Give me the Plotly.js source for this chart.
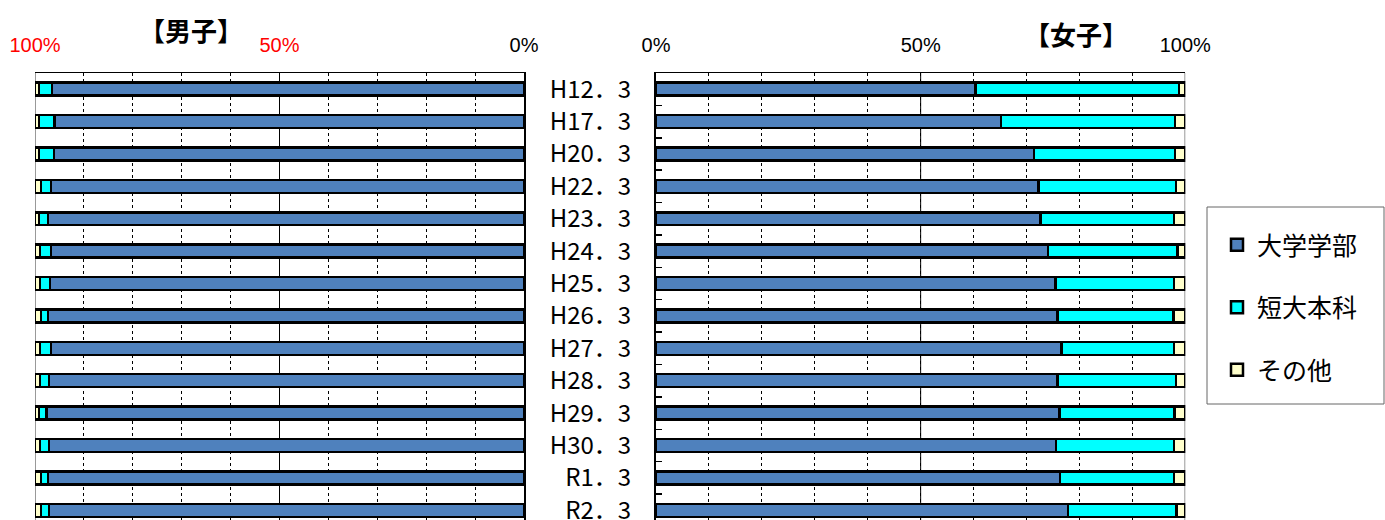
<!DOCTYPE html>
<html>
<head>
<meta charset="utf-8">
<script src="https://cdn.plot.ly/plotly-3.0.1.min.js"></script>
<style>
html,body{margin:0;padding:0;overflow:hidden;background:#fff;}
#chart{width:1385px;height:520px;}
</style>
</head>
<body>
<div id="chart"></div>
<script>
// categories (top to bottom)
const categories = ["H12．3","H17．3","H20．3","H22．3","H23．3","H24．3","H25．3","H26．3","H27．3","H28．3","H29．3","H30．3","R1．3","R2．3"];
const seriesNames = ["大学学部","短大本科","その他"];

// 男子 (%)
const maleUniv  = [96.5,96.0,96.1,96.7,97.3,96.7,96.9,97.3,96.7,97.1,97.6,97.1,97.3,97.1];
const maleJunior= [2.7,3.2,3.1,2.1,1.9,2.3,2.1,1.5,2.3,1.9,1.6,1.9,1.5,1.7];
const maleOther = [0.8,0.8,0.8,1.2,0.8,1.0,1.0,1.2,1.0,1.0,0.8,1.0,1.2,1.2];

// 女子 (%)
const femaleUniv  = [60.4,65.2,71.4,72.3,72.6,74.1,75.5,75.9,76.6,75.9,76.2,75.6,76.3,77.8];
const femaleJunior= [38.4,32.9,26.7,25.9,25.3,24.4,22.4,21.9,21.3,22.3,21.8,22.3,21.6,20.5];
const femaleOther = [1.2,1.9,1.9,1.8,2.1,1.5,2.1,2.2,2.1,1.8,2.0,2.1,2.1,1.7];

const maleTickText = ['<span style="color:#FF0000">100%</span>','<span style="color:#FF0000">50%</span>','0%'];
const femaleTickText = ['0%','50%','100%'];
const tickVals = [100,50,0];
const tickValsF = [0,50,100];

const colors = ["#4F81BD","#00FFFF","#FFFFCC"];
const W = 1385, H = 520;
const px = v => v / W;
const py = v => (H - v) / H;

const BW = 0.4;
const line = {color:"#000", width:2.5};

function mk(x, name, color, xa, ya, show, grp){
  return {type:"bar", orientation:"h", x:x, y:categories, name:name,
    marker:{color:color, line:line}, width:BW, xaxis:xa, yaxis:ya,
    showlegend:show, legendgroup:grp, hoverinfo:"x+y+name"};
}

const data = [
  mk(maleUniv, seriesNames[0], colors[0], "x", "y", false, "g0"),
  mk(maleJunior, seriesNames[1], colors[1], "x", "y", false, "g1"),
  mk(maleOther, seriesNames[2], colors[2], "x", "y", false, "g2"),
  mk(femaleUniv, seriesNames[0], colors[0], "x2", "y2", true, "g0"),
  mk(femaleJunior, seriesNames[1], colors[1], "x2", "y2", true, "g1"),
  mk(femaleOther, seriesNames[2], colors[2], "x2", "y2", true, "g2")
];

const yRange = [13.3, -0.5];
const tickFont = {family:"'Liberation Sans', Arial, sans-serif", size:20, color:"#000"};
const minorGrid = {dtick:10, showgrid:true, griddash:"dot", gridcolor:"#000", gridwidth:1, ticks:""};

const layout = {
  width:W, height:H,
  margin:{l:0, r:0, t:0, b:0},
  paper_bgcolor:"#fff", plot_bgcolor:"#fff",
  barmode:"stack",
  font:{family:"'Noto Sans CJK JP', sans-serif", color:"#000"},
  xaxis:{domain:[px(35), px(524)], range:[100,0], anchor:"y", side:"top",
    tickvals:tickVals, ticktext:maleTickText, tickfont:tickFont, ticks:"", ticklabelstandoff:12,
    showgrid:false, zeroline:false, showline:true, linecolor:"#000", linewidth:1.5,
    minor:minorGrid, fixedrange:true},
  yaxis:{domain:[0, py(73)], range:yRange, type:"category", side:"right", anchor:"x",
    showticklabels:false, ticks:"", showgrid:false, showline:true, linecolor:"#000", linewidth:2, fixedrange:true},
  xaxis2:{domain:[px(656), px(1185.3)], range:[0,100], anchor:"y2", side:"top",
    tickvals:tickValsF, ticktext:femaleTickText, tickfont:tickFont, ticks:"", ticklabelstandoff:12,
    showgrid:false, zeroline:false, showline:true, linecolor:"#000", linewidth:1.5,
    minor:minorGrid, fixedrange:true},
  yaxis2:{domain:[0, py(73)], range:yRange, type:"category", side:"left", anchor:"x2",
    tickfont:{family:"'Noto Sans CJK JP', sans-serif", size:24, color:"#000"},
    ticks:"inside", tickson:"boundaries", ticklen:6, tickcolor:"#000", tickwidth:1.5,
    ticklabelstandoff:18,
    showgrid:false, showline:true, linecolor:"#000", linewidth:2, fixedrange:true},
  showlegend:true,
  legend:{x:px(1217), y:py(222), xanchor:"left", yanchor:"top", traceorder:"grouped",
    tracegroupgap:27, bgcolor:"rgba(0,0,0,0)", borderwidth:0,
    font:{family:"'Noto Sans CJK JP', sans-serif", size:25, color:"#000"}},
  shapes:[
    {type:"line", xref:"x", yref:"y domain", x0:50, x1:50, y0:0, y1:1, line:{color:"#000", width:1}, layer:"below"},
    {type:"line", xref:"x", yref:"y domain", x0:100, x1:100, y0:0, y1:1, line:{color:"#999", width:2}, layer:"below"},
    {type:"line", xref:"x2", yref:"y2 domain", x0:50, x1:50, y0:0, y1:1, line:{color:"#000", width:1}, layer:"below"},
    {type:"line", xref:"x2", yref:"y2 domain", x0:100, x1:100, y0:0, y1:1, line:{color:"#999", width:2}, layer:"below"},
    {type:"rect", xref:"paper", yref:"paper", x0:px(1207), x1:px(1384), y0:py(404), y1:py(207),
      line:{color:"#666", width:1}, fillcolor:"rgba(0,0,0,0)"}
  ],
  annotations:[
    {text:"<b>【男子】</b>", xref:"paper", yref:"paper", x:px(191), y:py(29), xanchor:"center", yanchor:"middle",
      showarrow:false, font:{family:"'Noto Sans CJK JP', sans-serif", size:26, color:"#000"}},
    {text:"<b>【女子】</b>", xref:"paper", yref:"paper", x:px(1076), y:py(33), xanchor:"center", yanchor:"middle",
      showarrow:false, font:{family:"'Noto Sans CJK JP', sans-serif", size:26, color:"#000"}}
  ]
};

Plotly.newPlot("chart", data, layout, {displayModeBar:false, staticPlot:true});
</script>
</body>
</html>
